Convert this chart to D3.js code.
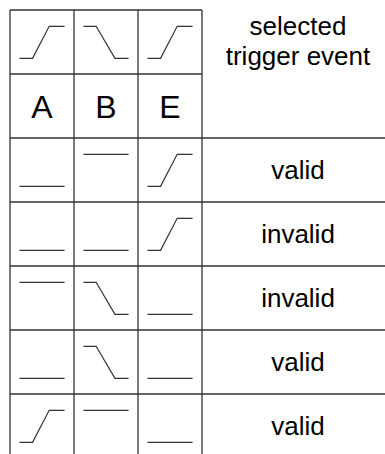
<!DOCTYPE html>
<html>
<head>
<meta charset="utf-8">
<script src="https://cdn.jsdelivr.net/npm/d3@7"></script>
<style>
html,body{margin:0;padding:0;background:#fff;}
svg{display:block;}
</style>
</head>
<body>
<svg id="chart" width="385" height="454"></svg>
<script>
// ---- data ----
const columns = ["A", "B", "E"];
const headerSignals = ["rise", "fall", "rise"];
const headerLabel = ["selected", "trigger event"];
const rowSignals = [
  ["low", "high", "rise"],
  ["low", "low", "rise"],
  ["high", "fall", "low"],
  ["low", "fall", "low"],
  ["rise", "high", "low"]
];
const rowResults = ["valid", "invalid", "invalid", "valid", "valid"];

// waveform shapes in normalized cell units (t: 0..1 horizontally, level: 0 low, 1 high)
const shapes = {
  rise: [[0, 0], [0.29, 0], [0.66, 1], [1, 1]],
  fall: [[0, 1], [0.28, 1], [0.70, 0], [1, 0]],
  high: [[0, 1], [1, 1]],
  low:  [[0, 0], [1, 0]]
};

// ---- layout ----
const svg = d3.select("#chart");
const gLeft = 10, gTop = 10, cell = 64;
const nRows = 2 + rowSignals.length;
const x = d3.scaleBand().domain(columns).range([gLeft, gLeft + cell * columns.length]);
const y = d3.scaleBand().domain(d3.range(nRows)).range([gTop, gTop + cell * nRows]);
const gridRight = x.range()[1];
const textCx = 298;
const stroke = "#333";
const font = "Liberation Sans, Arial, sans-serif";

// local scales within a cell
const tx = d3.scaleLinear().domain([0, 1]).range([9.5, 54.5]);
const ly = d3.scaleLinear().domain([0, 1]).range([48.3, 16.3]);
const line = d3.line().x(d => tx(d[0])).y(d => ly(d[1]));

const grid = svg.append("g").attr("stroke", stroke).attr("stroke-width", 1.3).attr("fill", "none");
const yBottom = 454;
// vertical lines
[gLeft, ...columns.map(c => x(c) + x.bandwidth())].forEach(xv => {
  grid.append("line").attr("x1", xv).attr("x2", xv).attr("y1", gTop).attr("y2", yBottom);
});
// top border and header separator (columns only)
[0, 1].forEach(i => {
  grid.append("line").attr("x1", gLeft).attr("x2", gridRight).attr("y1", y(i)).attr("y2", y(i));
});
// full-width row separators
d3.range(2, nRows).forEach(i => {
  grid.append("line").attr("x1", gLeft).attr("x2", 385).attr("y1", y(i)).attr("y2", y(i));
});

// waveforms
function drawSignal(rowIdx, col, sig) {
  svg.append("path")
    .attr("transform", `translate(${x(col)},${y(rowIdx)})`)
    .attr("d", line(shapes[sig]))
    .attr("fill", "none")
    .attr("stroke", stroke)
    .attr("stroke-width", 1.2);
}
headerSignals.forEach((s, j) => drawSignal(0, columns[j], s));
rowSignals.forEach((r, i) => r.forEach((s, j) => drawSignal(i + 2, columns[j], s)));

// column letters
svg.selectAll("text.col").data(columns).enter().append("text")
  .attr("class", "col")
  .attr("x", d => x(d) + x.bandwidth() / 2)
  .attr("y", y(1) + cell / 2 + 11.5)
  .attr("text-anchor", "middle")
  .attr("font-family", font)
  .attr("font-size", 32)
  .attr("fill", "#000")
  .text(d => d);

// header label
svg.selectAll("text.hdr").data(headerLabel).enter().append("text")
  .attr("class", "hdr")
  .attr("x", textCx)
  .attr("y", (d, i) => 34.5 + i * 30)
  .attr("text-anchor", "middle")
  .attr("font-family", font)
  .attr("font-size", 26)
  .attr("fill", "#000")
  .text(d => d);

// results
svg.selectAll("text.res").data(rowResults).enter().append("text")
  .attr("class", "res")
  .attr("x", textCx)
  .attr("y", (d, i) => y(i + 2) + cell / 2 + 9)
  .attr("text-anchor", "middle")
  .attr("font-family", font)
  .attr("font-size", 26)
  .attr("fill", "#000")
  .text(d => d);
</script>
</body>
</html>
